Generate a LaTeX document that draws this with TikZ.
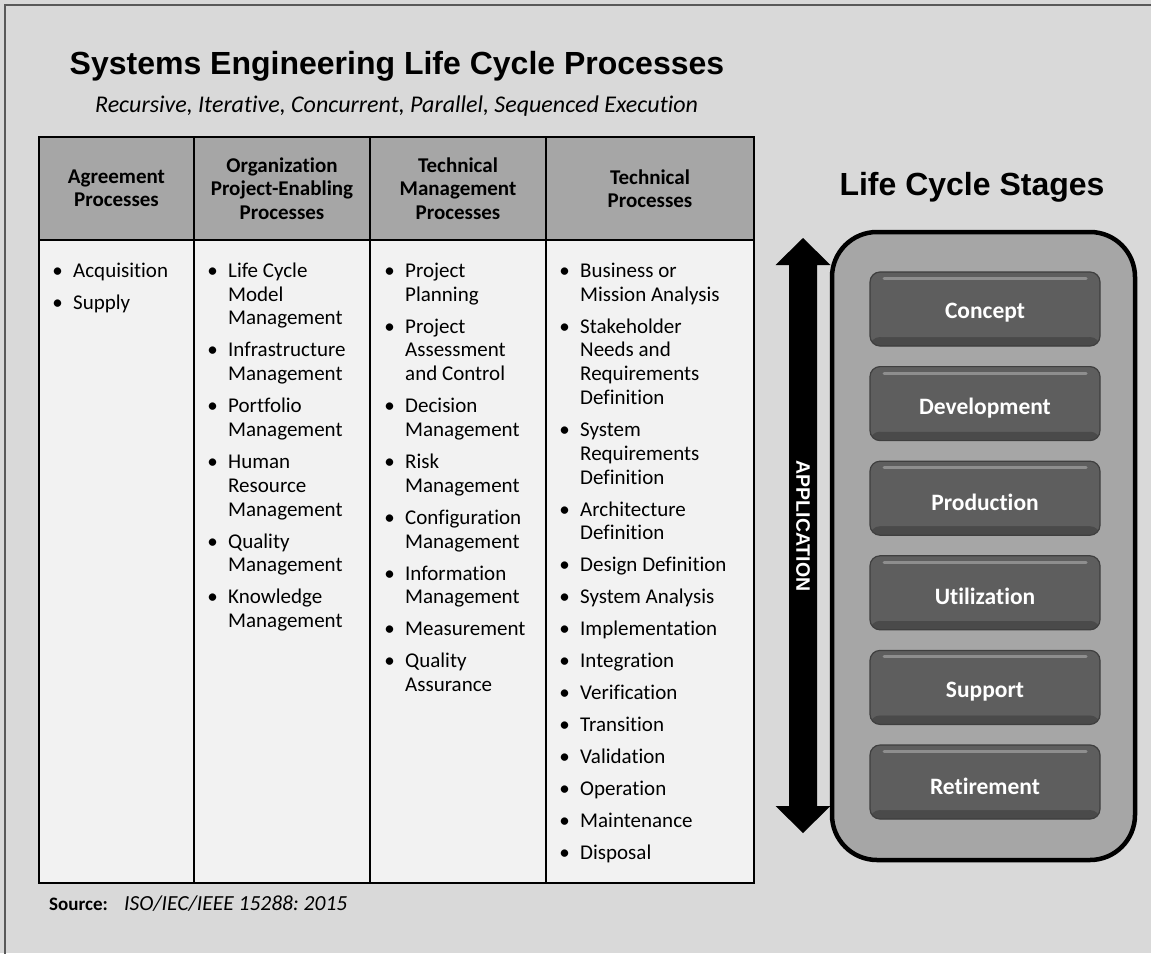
\documentclass[tikz,border=0pt]{standalone}
\usepackage{fontspec}
\setmainfont{Carlito}[Ligatures=NoCommon]
\newfontfamily\arialf{Liberation Sans}
\definecolor{bggray}{HTML}{D9D9D9}
\definecolor{hdrgray}{HTML}{A6A6A6}
\definecolor{bodygray}{HTML}{F2F2F2}
\definecolor{framegray}{HTML}{595959}
\definecolor{stageface}{HTML}{5E5E5E}
\definecolor{stageedge}{HTML}{3F3F3F}
\definecolor{stagehi}{HTML}{8E8E8E}
\definecolor{stagelo}{HTML}{4A4A4A}
\newcommand{\itm}[1]{\noindent\llap{\makebox[31pt][c]{\textbullet}}\rule{0pt}{18pt}#1\par}
\newcommand{\stg}[1]{\raisebox{-4pt}[\height][\depth]{#1}}
\frenchspacing
\begin{document}
\begin{tikzpicture}[x=1pt,y=-1pt,
  hdr/.style={draw=black, line width=2.6pt, fill=hdrgray, align=center,
    font=\bfseries\fontsize{21}{23.5}\selectfont, inner sep=0pt},
  bodycell/.style={draw=black, line width=2.6pt, fill=bodygray},
  plist/.style={anchor=north west, inner sep=0pt, align=flush left,
    font=\fontsize{21}{23.8}\selectfont},
  stagebox/.style={rounded corners=10pt, fill=stageface, draw=stageedge, line width=1.2pt,
    minimum width=230pt, minimum height=74pt, text=white,
    font=\bfseries\fontsize{23.5}{26}\selectfont,
    path picture={
      \fill[stagelo] ([yshift=9pt]path picture bounding box.south west) rectangle (path picture bounding box.south east);
      \fill[stageface, rounded corners=6pt] ([xshift=5pt,yshift=9pt]path picture bounding box.south west) rectangle ([xshift=-5pt,yshift=-5pt]path picture bounding box.north east);
      \draw[stagehi, line width=3pt, line cap=round] ([xshift=14pt,yshift=-6.5pt]path picture bounding box.north west) -- ([xshift=-14pt,yshift=-6.5pt]path picture bounding box.north east);
    }},
  titlef/.style={font=\arialf\bfseries\fontsize{32}{35}\selectfont}
]
\useasboundingbox (0,0) rectangle (1151,953);
\fill[bggray] (0,0) rectangle (1151,953);
\draw[framegray, line width=1.6pt] (5,960) -- (5,5) -- (1160,5);

% titles
\node[titlef, anchor=base] (title) at (397,74) {Systems Engineering Life Cycle Processes};
\node[anchor=base, font=\itshape\fontsize{24}{27}\selectfont] (subtitle) at (396.5,112) {Recursive, Iterative, Concurrent, Parallel, Sequenced Execution};
\node[titlef, anchor=base] (lcs) at (972,195) {Life Cycle Stages};

% table body
\node[bodycell, minimum width=155pt, minimum height=643pt] (b1) at (116.5,561.5) {};
\node[bodycell, minimum width=176pt, minimum height=643pt] (b2) at (282,561.5) {};
\node[bodycell, minimum width=176pt, minimum height=643pt] (b3) at (458,561.5) {};
\node[bodycell, minimum width=208pt, minimum height=643pt] (b4) at (650,561.5) {};
% headers
\node[hdr, minimum width=155pt, minimum height=103pt] (h1) at (116.5,188.5) {Agreement\\Processes};
\node[hdr, minimum width=176pt, minimum height=103pt] (h2) at (282,188.5) {Organization\\Project-Enabling\\Processes};
\node[hdr, minimum width=176pt, minimum height=103pt] (h3) at (458,188.5) {Technical\\Management\\Processes};
\node[hdr, minimum width=208pt, minimum height=103pt] (h4) at (650,188.5) {Technical\\Processes};

% lists
\node[plist, text width=110pt] (l1) at (73,259) {\setlength{\parskip}{8.2pt}%
\itm{Acquisition}\itm{Supply}};
\node[plist, text width=140pt] (l2) at (228,259) {\setlength{\parskip}{8.2pt}%
\itm{Life Cycle\\Model\\Management}\itm{Infrastructure\\Management}\itm{Portfolio\\Management}\itm{Human\\Resource\\Management}\itm{Quality\\Management}\itm{Knowledge\\Management}};
\node[plist, text width=135pt] (l3) at (405,259) {\setlength{\parskip}{8.2pt}%
\itm{Project\\Planning}\itm{Project\\Assessment\\and Control}\itm{Decision\\Management}\itm{Risk\\Management}\itm{Configuration\\Management}\itm{Information\\Management}\itm{Measurement}\itm{Quality\\Assurance}};
\node[plist, text width=170pt] (l4) at (580,259) {\setlength{\parskip}{8.2pt}%
\itm{Business or\\Mission Analysis}\itm{Stakeholder\\Needs and\\Requirements\\Definition}\itm{System\\Requirements\\Definition}\itm{Architecture\\Definition}\itm{Design Definition}\itm{System Analysis}\itm{Implementation}\itm{Integration}\itm{Verification}\itm{Transition}\itm{Validation}\itm{Operation}\itm{Maintenance}\itm{Disposal}};

% source
\node[anchor=base west, inner sep=0pt, font=\bfseries\fontsize{19}{22}\selectfont] (src) at (49,910) {Source:};
\node[anchor=base west, inner sep=0pt, font=\itshape\fontsize{21.5}{24}\selectfont] (srcv) at (124,910) {ISO/IEC/IEEE 15288: 2015};

% application arrow
\fill[black] (803,238) -- (830.5,265) -- (817,265) -- (817,806) -- (830.5,806) -- (803,833) -- (775.5,806) -- (789,806) -- (789,265) -- (775.5,265) -- cycle;
\node[rotate=-90, text=white, font=\arialf\bfseries\fontsize{19.5}{21}\selectfont] (app) at (803,526) {APPLICATION};

% stages container
\draw[black, line width=4.5pt, fill=hdrgray, rounded corners=45pt] (832,232) rectangle (1135,860);
\node[stagebox] (s1) at (985,309) {\stg{Concept}};
\node[stagebox] (s2) at (985,403.6) {\stg{Development}};
\node[stagebox] (s3) at (985,498.2) {\stg{Production}};
\node[stagebox] (s4) at (985,592.8) {\stg{Utilization}};
\node[stagebox] (s5) at (985,687.4) {\stg{Support}};
\node[stagebox] (s6) at (985,782) {\stg{Retirement}};
\end{tikzpicture}
\end{document}
